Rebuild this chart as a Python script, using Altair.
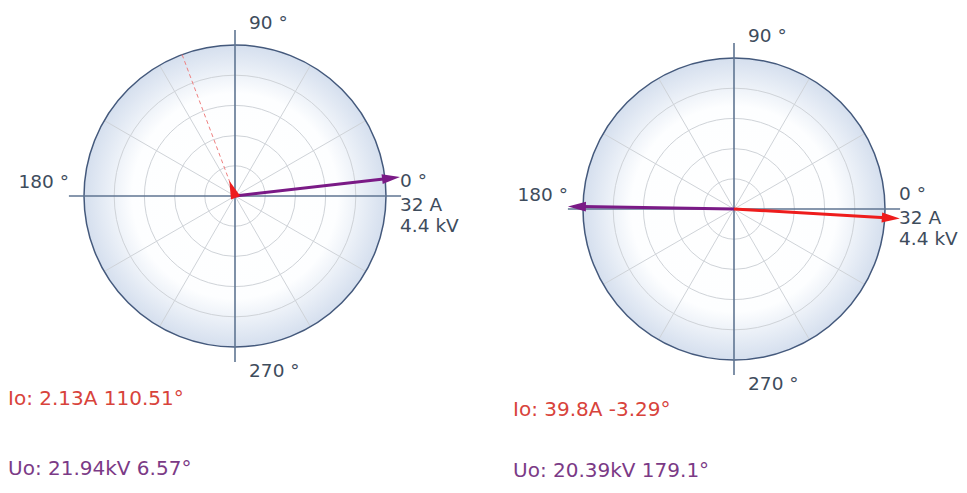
import math
import altair as alt
import pandas as pd

# ---------------- data ----------------
io_mag = [2.13, 39.8]        # A
io_ang = [110.51, -3.29]     # degrees
uo_mag = [21.94, 20.39]      # kV
uo_ang = [6.57, 179.1]       # degrees
full_scale_A = 32.0
full_scale_kV = 4.4
ring_levels = [0.2, 0.4, 0.6, 0.8]
spoke_angles = [30, 60, 120, 150, 210, 240, 300, 330]
axis_labels = ["0 °", "90 °", "180 °", "270 °"]
scale_labels = ["32 A", "4.4 kV"]
io_texts = ["Io: 2.13A 110.51°", "Io: 39.8A -3.29°"]
uo_texts = ["Uo: 21.94kV 6.57°", "Uo: 20.39kV 179.1°"]

# ---------------- layout / style ----------------
R = 151.0                    # px per unit (circle radius)
W, H = 951, 477
CENTERS = [(227, 188), (726, 201)]          # px inside the plot area
READ_X = [0, 505]                           # px, readout left edges
READ_Y = [(391, 461), (402, 463)]           # px, readout centre lines
CLIP = 1.1
HEAD_LEN = 18.0 / R
RED = "#ee1c1c"
PURPLE = "#7a1a86"
TXT = "#3e4c5c"
FONT = "DejaVu Sans"
HEAD_PATH = "M0,0L-0.55,2L0.55,2Z"

cx0, cy0 = CENTERS[0]
OFF = [((cx - cx0) / R, (cy0 - cy) / R) for cx, cy in CENTERS]

xs = alt.Scale(domain=[-cx0 / R, (W - cx0) / R], nice=False, zero=False)
ys = alt.Scale(domain=[-(H - cy0) / R, cy0 / R], nice=False, zero=False)
X = lambda f: alt.X(f, type="quantitative", scale=xs, axis=None)
Y = lambda f: alt.Y(f, type="quantitative", scale=ys, axis=None)

grad = alt.RadialGradient(
    gradient="radial",
    stops=[alt.GradientStop(offset=0, color="#ffffff"),
           alt.GradientStop(offset=0.68, color="#fdfeff"),
           alt.GradientStop(offset=1, color="#d5dfee")],
)

centers_df = pd.DataFrame({"x": [o[0] for o in OFF], "y": [o[1] for o in OFF]})

# rings
rows = []
for ox, oy in OFF:
    for r in ring_levels:
        rows.append(dict(x=ox, y=oy, s=(2 * r * R) ** 2))
rings_df = pd.DataFrame(rows)

# spokes and axes
rows, axrows = [], []
for ox, oy in OFF:
    for a in spoke_angles:
        rr = math.radians(a)
        rows.append(dict(x=ox, y=oy, x2=ox + math.cos(rr), y2=oy + math.sin(rr)))
    axrows.append(dict(x=ox - CLIP, y=oy, x2=ox + CLIP, y2=oy))
    axrows.append(dict(x=ox, y=oy - CLIP, x2=ox, y2=oy + CLIP))
spokes_df = pd.DataFrame(rows)
axes_df = pd.DataFrame(axrows)

# dashed Io direction, vectors
dash_rows, vec_rows = [], []
for i, (ox, oy) in enumerate(OFF):
    a = math.radians(io_ang[i])
    dash_rows.append(dict(x=ox, y=oy, x2=ox + math.cos(a), y2=oy + math.sin(a)))
    for kind, mag, ang, fs in [("uo", uo_mag[i], uo_ang[i], full_scale_kV),
                               ("io", io_mag[i], io_ang[i], full_scale_A)]:
        L = max(min(mag / fs, CLIP), HEAD_LEN * 0.9)
        aa = math.radians(ang)
        lL = max(0.0, L - HEAD_LEN * 0.8)
        vec_rows.append(dict(k=kind, x=ox, y=oy,
                             x2=ox + lL * math.cos(aa), y2=oy + lL * math.sin(aa),
                             tx=ox + L * math.cos(aa), ty=oy + L * math.sin(aa),
                             rot=(90 - ang) % 360))
dash_df = pd.DataFrame(dash_rows)
vec_df = pd.DataFrame(vec_rows)

# labels
lrows, rrows = [], []
for ox, oy in OFF:
    for t, dx, dy in [(axis_labels[0], CLIP, 0.1), (axis_labels[1], 0.1, 1.145),
                      (axis_labels[3], 0.1, -1.16), (scale_labels[0], CLIP, -0.06),
                      (scale_labels[1], CLIP, -0.2)]:
        lrows.append(dict(t=t, x=ox + dx, y=oy + dy))
    rrows.append(dict(t=axis_labels[2], x=ox - CLIP, y=oy + 0.09))
lab_df = pd.DataFrame(lrows)
lab180_df = pd.DataFrame(rrows)

rd_rows = []
for i in range(2):
    xx = (READ_X[i] - cx0) / R
    rd_rows.append(dict(t=io_texts[i], x=xx, y=(cy0 - READ_Y[i][0]) / R, c="io"))
    rd_rows.append(dict(t=uo_texts[i], x=xx, y=(cy0 - READ_Y[i][1]) / R, c="uo"))
rd_df = pd.DataFrame(rd_rows)

col_scale = alt.Scale(domain=["uo", "io"], range=[PURPLE, RED])

bg = alt.Chart(centers_df).mark_point(
    shape="circle", filled=True, fill=grad, opacity=1, strokeWidth=0,
    size=(2 * R) ** 2).encode(x=X("x"), y=Y("y"))
rings = alt.Chart(rings_df).mark_point(
    shape="circle", filled=False, stroke="#cfd3d8", strokeWidth=1, opacity=1
).encode(x=X("x"), y=Y("y"), size=alt.Size("s:Q", scale=None))
spokes = alt.Chart(spokes_df).mark_rule(stroke="#cfd3d8", strokeWidth=1).encode(
    x=X("x"), y=Y("y"), x2="x2", y2="y2")
border = alt.Chart(centers_df).mark_point(
    shape="circle", filled=False, stroke="#44597c", strokeWidth=1.5, opacity=1,
    size=(2 * R) ** 2).encode(x=X("x"), y=Y("y"))
axes = alt.Chart(axes_df).mark_rule(stroke="#5f7592", strokeWidth=1.6).encode(
    x=X("x"), y=Y("y"), x2="x2", y2="y2")
dash = alt.Chart(dash_df).mark_rule(stroke="#ee8080", strokeWidth=1,
                                    strokeDash=[4, 3]).encode(
    x=X("x"), y=Y("y"), x2="x2", y2="y2")


def vec_layers(kind):
    base = alt.Chart(vec_df).transform_filter(f"datum.k == '{kind}'")
    line = base.mark_rule(strokeWidth=3).encode(
        x=X("x"), y=Y("y"), x2="x2", y2="y2",
        color=alt.Color("k:N", scale=col_scale, legend=None))
    head = base.mark_point(shape=HEAD_PATH, filled=True, opacity=1,
                           strokeWidth=0, size=324).encode(
        x=X("tx"), y=Y("ty"), angle=alt.Angle("rot:Q", scale=None),
        color=alt.Color("k:N", scale=col_scale, legend=None))
    return [line, head]


labels = alt.Chart(lab_df).mark_text(
    align="left", baseline="middle", font=FONT, fontSize=18.5, color=TXT, dx=-1
).encode(x=X("x"), y=Y("y"), text="t:N")
labels180 = alt.Chart(lab180_df).mark_text(
    align="right", baseline="middle", font=FONT, fontSize=18.5, color=TXT, dx=0
).encode(x=X("x"), y=Y("y"), text="t:N")
readouts = alt.Chart(rd_df).mark_text(
    align="left", baseline="middle", font=FONT, fontSize=20
).encode(x=X("x"), y=Y("y"), text="t:N",
         color=alt.Color("c:N", scale=alt.Scale(domain=["io", "uo"],
                                                range=["#d8433b", "#7b3a86"]),
                         legend=None))

chart = alt.layer(bg, rings, spokes, border, axes, dash,
                  *vec_layers("uo"), *vec_layers("io"),
                  labels, labels180, readouts).resolve_scale(
    color="independent"
).properties(
    width=W, height=H, padding=0, background="white",
    autosize=alt.AutoSizeParams(type="none"),
).configure_view(stroke=None)

chart.save("out.html", embed_options={"renderer": "svg", "actions": False})
